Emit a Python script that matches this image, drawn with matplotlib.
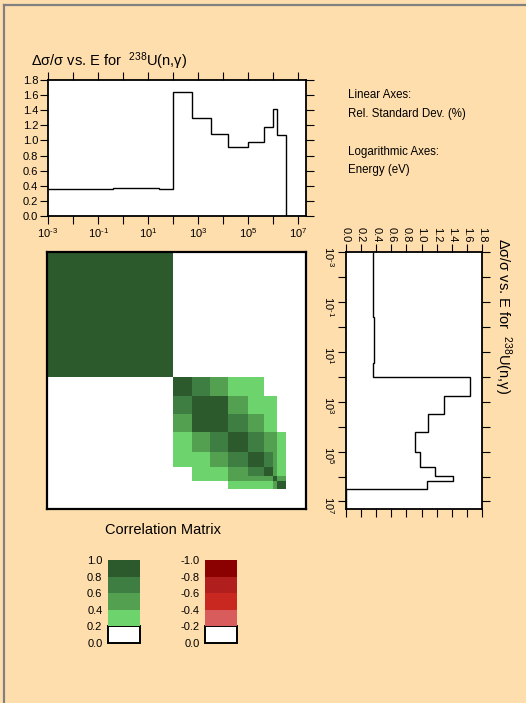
import numpy as np
import matplotlib
matplotlib.use('Agg')
from matplotlib import pyplot as plt
from matplotlib.colors import ListedColormap, BoundaryNorm
from matplotlib.lines import Line2D
from matplotlib.patches import Rectangle

plt.rcParams['font.family'] = ['Liberation Sans', 'DejaVu Sans']
plt.rcParams['mathtext.default'] = 'regular'

W, H = 526, 703
BG = '#ffdead'

# relative std dev (step), energy group edges in eV
E_EDGES = [1e-3, 0.4, 27.5, 100, 575, 3100, 15800, 1e5, 4.3e5, 9.5e5, 1.45e6, 3.1e6, 2e7]
REL_DEV = [0.355, 0.372, 0.363, 1.645, 1.30, 1.08, 0.915, 0.985, 1.18, 1.415, 1.07, 0.0]

# correlation matrix groups (values sit inside the colour classes)
M_EDGES = [1e-3, 100, 575, 3100, 15800, 1e5, 4.3e5, 9.5e5, 1.45e6, 3.1e6, 2e7]
CORR = [
    [1.0, 0, 0, 0, 0, 0, 0, 0, 0, 0],
    [0, 1.0, 0.7, 0.5, 0.3, 0.3, 0, 0, 0, 0],
    [0, 0.7, 1.0, 1.0, 0.5, 0.3, 0.3, 0.3, 0, 0],
    [0, 0.5, 1.0, 1.0, 0.7, 0.5, 0.3, 0.3, 0, 0],
    [0, 0.3, 0.5, 0.7, 1.0, 0.7, 0.5, 0.5, 0.3, 0],
    [0, 0.3, 0.3, 0.5, 0.7, 1.0, 0.7, 0.5, 0.3, 0],
    [0, 0, 0.3, 0.3, 0.5, 0.7, 1.0, 0.5, 0.3, 0],
    [0, 0, 0.3, 0.3, 0.5, 0.5, 0.5, 1.0, 0.5, 0],
    [0, 0, 0, 0, 0.3, 0.3, 0.3, 0.5, 1.0, 0],
    [0, 0, 0, 0, 0, 0, 0, 0, 0, 0],
]

GREENS = ['#6dd46d', '#52a050', '#3e7e42', '#2d5a2d']   # 0.2..1.0
REDS = ['#d85c5c', '#c82820', '#b01e1e', '#8b0000']     # -0.2..-1.0
LEVELS = [-1.01, -0.8, -0.6, -0.4, -0.2, 0.2, 0.4, 0.6, 0.8, 1.01]
POS_LABELS = ['0.0', '0.2', '0.4', '0.6', '0.8', '1.0']
NEG_LABELS = ['0.0', '-0.2', '-0.4', '-0.6', '-0.8', '-1.0']

DEV_TICKS = np.arange(0, 1.81, 0.2)
DECADES = [10.0 ** k for k in range(-3, 8)]


def dec_label(k):
    if k % 2 == 0:
        return ''
    sign = '\u2010' if k < 0 else ''
    return '$10^{%s%d}$' % (sign, abs(k))


DEC_LABELS = [dec_label(k) for k in range(-3, 8)]
TITLE = 'Δσ/σ vs. E for  $^{238}$U(n,γ)'
TICK_FS = 8


def rect(l, t, r, b):
    return [l / W, 1 - b / H, (r - l) / W, (b - t) / H]


fig = plt.figure(figsize=(W / 100, H / 100), dpi=100, facecolor=BG)

# gray page border (left and top)
fig.add_artist(Line2D([4 / W, 4 / W], [0, 1 - 5 / H], color='#808080', lw=1.6))
fig.add_artist(Line2D([4 / W, 1], [1 - 5 / H, 1 - 5 / H], color='#808080', lw=1.6))

# ---- top plot
ax = fig.add_axes(rect(48, 80, 306, 216))
ax.stairs(REL_DEV, E_EDGES, baseline=None, color='black', lw=1.0)
ax.set_xscale('log')
ax.set_xlim(1e-3, 2e7)
ax.set_ylim(0, 1.8)
ax.set_xticks(DECADES)
ax.set_xticklabels(DEC_LABELS)
ax.xaxis.set_minor_locator(matplotlib.ticker.NullLocator())
ax.set_yticks(DEV_TICKS)
ax.set_yticklabels(['%.1f' % v for v in DEV_TICKS])
ax.tick_params(direction='out', length=5.5, width=0.8, labelsize=TICK_FS, pad=1.5,
               top=True, right=True)
for s in ax.spines.values():
    s.set_linewidth(1.3)
fig.text(31 / W, 1 - 61 / H, TITLE, fontsize=10.5, va='center', ha='left')

# text about the axes
fig.text(348 / W, 1 - 95 / H, 'Linear Axes:', fontsize=8.3, va='center')
fig.text(348 / W, 1 - 114 / H, 'Rel. Standard Dev. (%)', fontsize=8.3, va='center')
fig.text(348 / W, 1 - 152 / H, 'Logarithmic Axes:', fontsize=8.3, va='center')
fig.text(348 / W, 1 - 170 / H, 'Energy (eV)', fontsize=8.3, va='center')

# ---- right plot (rotated copy)
ar = fig.add_axes(rect(346, 252, 482, 509))
ar.stairs(REL_DEV, E_EDGES, baseline=None, orientation='horizontal',
          color='black', lw=1.0)
ar.set_yscale('log')
ar.set_ylim(2e7, 1e-3)
ar.set_xlim(0, 1.8)
ar.set_yticks(DECADES)
ar.set_yticklabels(DEC_LABELS)
ar.yaxis.set_minor_locator(matplotlib.ticker.NullLocator())
ar.set_xticks(DEV_TICKS)
ar.set_xticklabels(['%.1f' % v for v in DEV_TICKS])
ar.tick_params(direction='out', length=5.5, width=0.8, labelsize=TICK_FS, pad=1.5,
               top=True, bottom=True, right=True, labeltop=True, labelbottom=False,
               labelrotation=-90)
for s in ar.spines.values():
    s.set_linewidth(1.3)
fig.text(503 / W, 1 - 238 / H, TITLE, fontsize=10.5, rotation=-90,
         ha='center', va='top')

# ---- correlation matrix
cmap = ListedColormap(REDS[::-1] + ['white'] + GREENS)
norm = BoundaryNorm(LEVELS, cmap.N)
am = fig.add_axes(rect(47, 252, 306, 509))
am.pcolormesh(M_EDGES, M_EDGES, np.array(CORR), cmap=cmap, norm=norm)
am.set_xscale('log')
am.set_yscale('log')
am.set_xlim(1e-3, 2e7)
am.set_ylim(2e7, 1e-3)
am.set_xticks([])
am.set_yticks([])
am.minorticks_off()
for s in am.spines.values():
    s.set_linewidth(1.6)
fig.text(163 / W, 1 - 530 / H, 'Correlation Matrix', fontsize=10.5,
         ha='center', va='center')

# ---- colour keys
for left, cols, labels in [(108, GREENS, POS_LABELS), (205, REDS, NEG_LABELS)]:
    ak = fig.add_axes(rect(left, 560, left + 32, 643))
    ak.set_xlim(0, 1)
    ak.set_ylim(0, 1)
    ak.add_patch(Rectangle((0, 0), 1, 0.2, facecolor='white', edgecolor='black',
                           lw=1.4, clip_on=False))
    for i, c in enumerate(cols):
        ak.add_patch(Rectangle((0, 0.2 * (i + 1)), 1, 0.2, facecolor=c,
                               edgecolor='none', clip_on=False))
    ak.set_xticks([])
    ak.set_yticks(np.linspace(0, 1, 6))
    ak.set_yticklabels(labels)
    ak.tick_params(length=0, labelsize=8, pad=4)
    for s in ak.spines.values():
        s.set_visible(False)

fig.savefig('out.png', dpi=100, facecolor=BG)
